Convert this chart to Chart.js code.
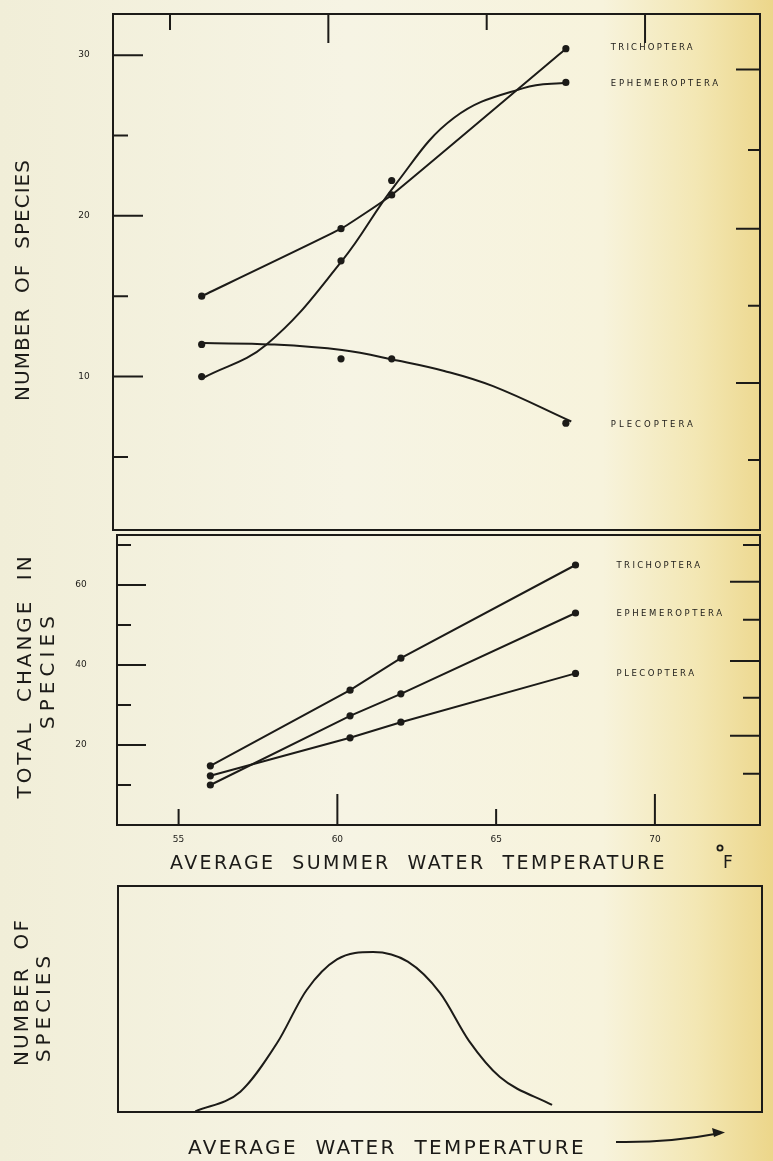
<!DOCTYPE html>
<html>
<head>
<meta charset="utf-8">
<script src="https://cdn.jsdelivr.net/npm/chart.js@4/dist/chart.umd.min.js"></script>
<style>
  html, body { margin: 0; padding: 0; }
  body {
    width: 773px; height: 1161px; position: relative; overflow: hidden;
    background: linear-gradient(90deg, #f1eed8 0%, #f6f4e4 45%, #f7f3dc 78%, #f3e7b4 90%, #ecd68a 100%);
  }
  canvas { position: absolute; left: 0; }
</style>
</head>
<body>
<canvas id="topChart" style="top:0px"></canvas>
<canvas id="midChart" style="top:530px"></canvas>
<canvas id="botChart" style="top:875px"></canvas>
<script>
// water temperature (F) of the four stations
const temps = [56.0, 60.4, 62.0, 67.5];

// number of species per order
const trichSpecies = [15.0, 19.2, 21.3, 30.4];
const ephemSpecies = [10.0, 17.2, 22.2, 28.3];
const plecoSpecies = [12.0, 11.1, 11.1, 7.1];

// hand fitted curves of the top panel
const ephemCurveT = [56.07, 58.04, 60.43, 62.1, 63.97, 66.16, 67.56];
const ephemCurveN = [9.94, 11.98, 17.2, 21.9, 26.1, 27.95, 28.3];
const plecoCurveT = [56.07, 58.2, 60.43, 62.18, 63.66, 65.2, 67.67];
const plecoCurveN = [12.08, 12.0, 11.65, 11.0, 10.35, 9.4, 7.2];

// total change in species
const trichChange = [14.8, 33.7, 41.7, 65.0];
const ephemChange = [10.0, 27.3, 32.8, 53.0];
const plecoChange = [12.3, 21.8, 25.7, 37.9];

// ticks
const speciesMajor = [10, 20, 30];
const speciesMinor = [5, 15, 25];
const speciesRight = [29.1, 24.1, 19.2, 14.4, 9.6, 4.8];
const changeMajor = [20, 40, 60];
const changeMinor = [10, 30, 50, 70];
const changeRight = [70, 60.8, 51.3, 41, 31.8, 22.3, 12.8];
const tempMajor = [60, 70];
const tempMinor = [55, 65];
const tempLabels = [55, 60, 65, 70];

// schematic curve (bottom panel), relative units
const bellTemp = [12.0, 19.0, 24.7, 29.3, 34.0, 39.6, 45.0, 50.0, 54.5, 59.3, 67.4];
const bellSpecies = [0.3, 9.0, 30.5, 54.0, 67.5, 70.8, 66.5, 52.7, 31.5, 15.5, 3.1];

const ink = '#1c1b18';
const FONT = '"DejaVu Sans", "Liberation Sans", sans-serif';

function pts(xs, ys) {
  return xs.map((x, i) => ({ x: x, y: ys[i] }));
}

// draws text stretched with letter spacing to a given width
function spaced(ctx, text, x, y, width, size, align) {
  ctx.font = size + 'px ' + FONT;
  ctx.letterSpacing = '0px';
  const w0 = ctx.measureText(text).width;
  const s = Math.max(0, (width - w0) / text.length);
  ctx.letterSpacing = s + 'px';
  ctx.textAlign = 'left';
  ctx.fillText(text, align === 'center' ? x - width / 2 : x, y);
  ctx.letterSpacing = '0px';
}

function vtext(ctx, text, baseX, centerY, width, size) {
  ctx.save();
  ctx.translate(baseX, centerY);
  ctx.rotate(-Math.PI / 2);
  ctx.textBaseline = 'alphabetic';
  spaced(ctx, text, 0, 0, width, size, 'center');
  ctx.restore();
}

const framePlugin = {
  id: 'frame',
  afterDraw(chart, args, o) {
    const { ctx, chartArea: a } = chart;
    const x = chart.scales.x, y = chart.scales.y;
    ctx.save();
    ctx.strokeStyle = ink;
    ctx.fillStyle = ink;
    ctx.lineWidth = 2;
    ctx.strokeRect(a.left, a.top, a.right - a.left, a.bottom - a.top);

    ctx.beginPath();
    (o.left || []).forEach(([vals, len]) => vals.forEach(v => {
      const py = y.getPixelForValue(v);
      ctx.moveTo(a.left, py); ctx.lineTo(a.left + len, py);
    }));
    (o.right || []).forEach(([vals, len]) => vals.forEach(v => {
      const py = y.getPixelForValue(v);
      ctx.moveTo(a.right, py); ctx.lineTo(a.right - len, py);
    }));
    (o.top || []).forEach(([vals, len]) => vals.forEach(v => {
      const px = x.getPixelForValue(v);
      ctx.moveTo(px, a.top); ctx.lineTo(px, a.top + len);
    }));
    (o.bottom || []).forEach(([vals, len]) => vals.forEach(v => {
      const px = x.getPixelForValue(v);
      ctx.moveTo(px, a.bottom); ctx.lineTo(px, a.bottom - len);
    }));
    ctx.stroke();

    ctx.font = '9px ' + FONT;
    ctx.textAlign = 'center';
    ctx.textBaseline = 'middle';
    (o.leftLabels || []).forEach(v => {
      ctx.fillText(String(v), a.left - o.leftLabelGap, y.getPixelForValue(v));
    });
    (o.bottomLabels || []).forEach(v => {
      ctx.fillText(String(v), x.getPixelForValue(v), a.bottom + o.bottomLabelGap);
    });

    // series names beside the last point
    if (o.names) {
      ctx.textBaseline = 'middle';
      o.names.forEach(([idx, w, dy]) => {
        const meta = chart.getDatasetMeta(idx);
        const last = meta.data[meta.data.length - 1];
        spaced(ctx, chart.data.datasets[idx].label, last.x + o.nameGap, last.y + (dy || 0), w, 8.5, 'left');
      });
    }

    ctx.textBaseline = 'alphabetic';
    (o.vtitles || []).forEach(t => vtext(ctx, t.text, t.x, t.cy, t.w, t.size));
    (o.htitles || []).forEach(t => spaced(ctx, t.text, t.x, t.y, t.w, t.size, 'left'));

    if (o.degree) {
      ctx.beginPath();
      ctx.arc(o.degree.x, o.degree.y, 2.6, 0, Math.PI * 2);
      ctx.lineWidth = 1.8;
      ctx.stroke();
      ctx.font = '17px ' + FONT;
      ctx.textAlign = 'left';
      ctx.fillText('F', o.degree.x + 3, o.degree.y + 20);
    }
    if (o.arrow) {
      const [x1, y1, x2, y2] = o.arrow;
      ctx.lineWidth = 2;
      ctx.beginPath();
      ctx.moveTo(x1, y1);
      ctx.quadraticCurveTo((x1 + x2) / 2, y1 + 1, x2, y2);
      ctx.stroke();
      ctx.beginPath();
      ctx.moveTo(x2 + 4, y2 - 0.5);
      ctx.lineTo(x2 - 9, y2 - 5);
      ctx.lineTo(x2 - 7, y2 + 4);
      ctx.closePath();
      ctx.fill();
    }
    ctx.restore();
  }
};

const baseOpts = {
  responsive: false,
  animation: false,
  devicePixelRatio: 1,
  events: [],
  plugins: { legend: { display: false }, tooltip: { enabled: false } },
  elements: {
    line: { borderColor: ink, borderWidth: 2, fill: false },
    point: { radius: 3.6, backgroundColor: ink, borderWidth: 0 }
  }
};

function setup(id, w, h) {
  const c = document.getElementById(id);
  c.width = w; c.height = h;
  c.style.width = w + 'px'; c.style.height = h + 'px';
  return c;
}

// top panel: number of species
new Chart(setup('topChart', 773, 535), {
  type: 'line',
  data: {
    datasets: [
      { label: 'TRICHOPTERA', data: pts(temps, trichSpecies), tension: 0.12 },
      { label: 'EPHEMEROPTERA', data: pts(temps, ephemSpecies), showLine: false },
      { label: 'PLECOPTERA', data: pts(temps, plecoSpecies), showLine: false },
      { label: 'ephem curve', data: pts(ephemCurveT, ephemCurveN), tension: 0.4, pointRadius: 0 },
      { label: 'pleco curve', data: pts(plecoCurveT, plecoCurveN), tension: 0.4, pointRadius: 0 }
    ]
  },
  options: Object.assign({}, baseOpts, {
    layout: { padding: { left: 113, right: 13, top: 14, bottom: 5 } },
    scales: {
      x: { type: 'linear', min: 53.2, max: 73.63, display: false },
      y: { type: 'linear', min: 0.45, max: 32.56, display: false }
    },
    plugins: Object.assign({}, baseOpts.plugins, {
      frame: {
        left: [[speciesMajor, 30], [speciesMinor, 15]],
        right: [[speciesRight.filter((v, i) => i % 2 === 0), 24], [speciesRight.filter((v, i) => i % 2 === 1), 12]],
        top: [[tempMajor, 29], [tempMinor, 16]],
        leftLabels: speciesMajor, leftLabelGap: 29,
        names: [[0, 84, -1], [1, 110, 1], [2, 85, 2]], nameGap: 45,
        vtitles: [{ text: 'NUMBER  OF  SPECIES', x: 29, cy: 280, w: 242, size: 20 }]
      }
    })
  }),
  plugins: [framePlugin]
});

// middle panel: total change in species
new Chart(setup('midChart', 773, 345), {
  type: 'line',
  data: {
    datasets: [
      { label: 'TRICHOPTERA', data: pts(temps, trichChange), tension: 0 },
      { label: 'EPHEMEROPTERA', data: pts(temps, ephemChange), tension: 0 },
      { label: 'PLECOPTERA', data: pts(temps, plecoChange), tension: 0 }
    ]
  },
  options: Object.assign({}, baseOpts, {
    layout: { padding: { left: 117, right: 13, top: 5, bottom: 50 } },
    scales: {
      x: { type: 'linear', min: 53.06, max: 73.31, display: false },
      y: { type: 'linear', min: 0, max: 72.5, display: false }
    },
    plugins: Object.assign({}, baseOpts.plugins, {
      frame: {
        left: [[changeMajor, 29], [changeMinor, 14]],
        right: [[changeRight.filter((v, i) => i % 2 === 1), 30], [changeRight.filter((v, i) => i % 2 === 0), 17]],
        bottom: [[tempMajor, 31], [tempMinor, 16]],
        leftLabels: changeMajor, leftLabelGap: 36,
        bottomLabels: tempLabels, bottomLabelGap: 15,
        names: [[0, 86, 1], [1, 108, 1], [2, 80, 0]], nameGap: 41,
        vtitles: [
          { text: 'TOTAL  CHANGE  IN', x: 31, cy: 146, w: 245, size: 20 },
          { text: 'SPECIES', x: 54, cy: 140, w: 118, size: 20 }
        ],
        htitles: [{ text: 'AVERAGE  SUMMER  WATER  TEMPERATURE', x: 170, y: 339, w: 497, size: 19 }],
        degree: { x: 720, y: 318 }
      }
    })
  }),
  plugins: [framePlugin]
});

// bottom panel: schematic distribution
new Chart(setup('botChart', 773, 286), {
  type: 'line',
  data: {
    datasets: [
      { label: 'species', data: pts(bellTemp, bellSpecies), cubicInterpolationMode: 'monotone', pointRadius: 0 }
    ]
  },
  options: Object.assign({}, baseOpts, {
    layout: { padding: { left: 118, right: 11, top: 11, bottom: 49 } },
    scales: {
      x: { type: 'linear', min: 0, max: 100, display: false },
      y: { type: 'linear', min: 0, max: 100, display: false }
    },
    plugins: Object.assign({}, baseOpts.plugins, {
      frame: {
        vtitles: [
          { text: 'NUMBER  OF', x: 28, cy: 117, w: 148, size: 20 },
          { text: 'SPECIES', x: 50, cy: 132, w: 110, size: 20 }
        ],
        htitles: [{ text: 'AVERAGE  WATER  TEMPERATURE', x: 188, y: 279, w: 398, size: 20 }],
        arrow: [616, 267, 721, 258]
      }
    })
  }),
  plugins: [framePlugin]
});
</script>
</body>
</html>
